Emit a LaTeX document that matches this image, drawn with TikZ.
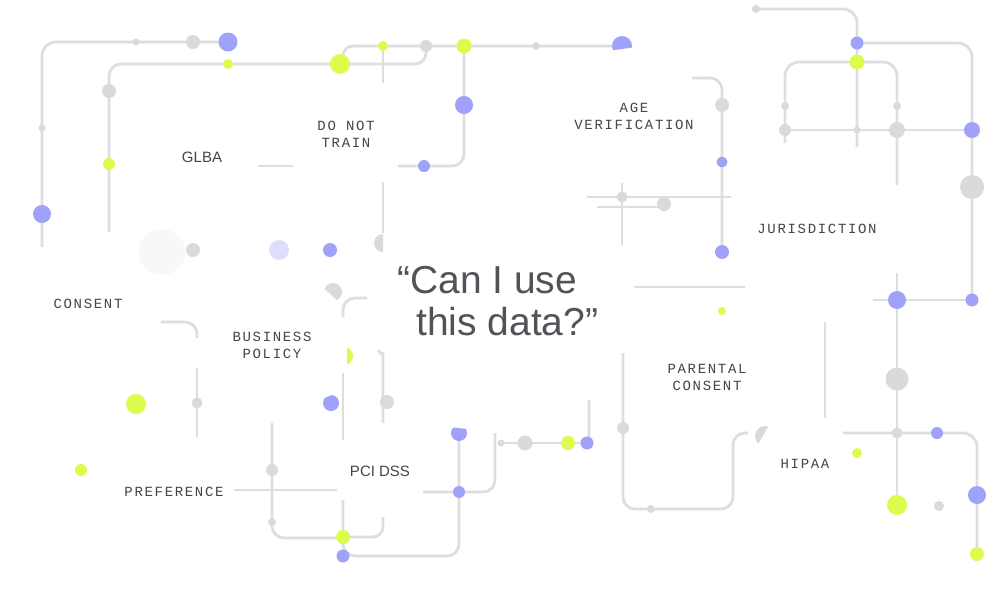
\documentclass[tikz,border=0pt]{standalone}
\usepackage{fontspec}
\setmainfont{Liberation Sans}
\newfontfamily\labelmono{Liberation Mono}[LetterSpace=12.0]
\definecolor{wiregray}{RGB}{222,222,224}
\definecolor{dotgray}{RGB}{218,218,221}
\definecolor{dotpurple}{RGB}{160,161,249}
\definecolor{dotlime}{RGB}{219,252,76}
\definecolor{lightpurple}{RGB}{222,222,252}
\definecolor{blobgray}{RGB}{248,248,249}
\definecolor{labeltext}{RGB}{68,68,74}
\definecolor{quotetext}{RGB}{82,82,88}
\tikzset{
  wire/.style={draw=wiregray, line width=2.8pt, rounded corners=12pt},
  gdot/.style={fill=dotgray},
  pdot/.style={fill=dotpurple},
  ldot/.style={fill=dotlime},
  monolabel/.style={text=labeltext, font=\labelmono\fontsize{14}{17}\selectfont, align=center, inner sep=0pt},
  sanslabel/.style={text=labeltext, font=\fontsize{15}{18}\selectfont, inner sep=0pt},
  quoteline/.style={text=quotetext, font=\fontsize{39}{42}\selectfont, inner sep=0pt, anchor=base west}
}
\begin{document}
\begin{tikzpicture}[x=1pt,y=-1pt]
\useasboundingbox[fill=white] (0,0) rectangle (1000,600);

% ---------- wires ----------
\draw[wire, rounded corners=14pt] (42,247) -- (42,42) -- (228,42);
\draw[wire] (109,232) -- (109,64) -- (340,64);
\draw[wire] (258,166) -- (293,166);
\draw[wire, rounded corners=10pt] (343,64) -- (343,46) -- (622,46);
\draw[wire, rounded corners=11pt] (340,64) -- (426,64) -- (426,46);
\draw[wire] (383,46) -- (383,83);
\draw[wire] (464,46) -- (464,166) -- (398,166);
\draw[wire] (383,182) -- (383,233);
\draw[wire] (587,197) -- (731,197);
\draw[wire] (597,207) -- (664,207);
\draw[wire] (622,183) -- (622,245);
\draw[wire] (692,78) -- (722,78) -- (722,253);
\draw[wire] (634,287) -- (745,287);
\draw[wire, rounded corners=14pt] (756,9) -- (857,9) -- (857,147);
\draw[wire, rounded corners=14pt] (857,43) -- (972,43) -- (972,300);
\draw[wire, rounded corners=14pt] (785,143) -- (785,62) -- (897,62) -- (897,185);
\draw[wire] (785,130) -- (972,130);
\draw[wire] (897,273) -- (897,505);
\draw[wire] (873,300) -- (972,300);
\draw[wire] (825,322) -- (825,418);
\draw[wire] (623,353) -- (623,509) -- (733,509) -- (733,433) -- (748,433);
\draw[wire, rounded corners=14pt] (843,433) -- (977,433) -- (977,553);
\draw[wire] (161,322) -- (197,322) -- (197,338);
\draw[wire] (197,368) -- (197,437);
\draw[wire] (234,490) -- (337,490);
\draw[wire] (272,423) -- (272,538) -- (343,538);
\draw[wire] (343,317) -- (343,298) -- (367,298);
\draw[wire] (343,373) -- (343,440);
\draw[wire] (343,500) -- (343,556) -- (459,556) -- (459,432);
\draw[wire, rounded corners=10pt] (383,517) -- (383,537) -- (343,537);
\draw[wire] (383,423) -- (383,364) .. controls (383,357) and (381,353) .. (378,350);
\draw[wire] (423,492) -- (495,492) -- (495,433);
\draw[wire] (501,443) -- (587,443);
\draw[wire, rounded corners=8pt] (589,400) -- (589,443) -- (580,443);

% ---------- partial discs ----------
\begin{scope}
  \clip (140,228) -- (156,226) -- (200,226) -- (200,280) -- (130,280) -- (130,242) -- cycle;
  \fill[blobgray] (162,252) circle[radius=23];
\end{scope}
\begin{scope}
  \clip (360,230) rectangle (383,256);
  \fill[dotgray] (383,243) circle[radius=9];
\end{scope}
\begin{scope}
  \clip (318,283) -- (338,301) -- (350,301) -- (350,275) -- (318,275) -- cycle;
  \fill[dotgray] (333,292) circle[radius=9];
\end{scope}
\begin{scope}
  \clip (347,340) rectangle (360,370);
  \fill[dotlime] (344,356) circle[radius=9];
\end{scope}
\begin{scope}
  \clip (318,401) -- (336,393) -- (345,393) -- (345,420) -- (318,420) -- cycle;
  \fill[dotpurple] (331,403) circle[radius=8];
\end{scope}
\begin{scope}
  \clip (448,427) -- (468,429) -- (470,445) -- (448,445) -- cycle;
  \fill[dotpurple] (459,433) circle[radius=8];
\end{scope}
\begin{scope}
  \clip (608,30) -- (636,30) -- (636,47) -- (608,51) -- cycle;
  \fill[dotpurple] (622,46) circle[radius=10];
\end{scope}
\begin{scope}
  \clip (750,420) -- (772,420) -- (757,446) -- (750,446) -- cycle;
  \fill[dotgray] (765,436) circle[radius=10];
\end{scope}

% ---------- dots ----------
\fill[gdot] (136,42) circle[radius=3.5];
\fill[gdot] (193,42) circle[radius=7];
\fill[pdot] (228,42) circle[radius=9.5];
\fill[gdot] (42,128) circle[radius=3.5];
\fill[pdot] (42,214) circle[radius=9];
\fill[gdot] (109,91) circle[radius=7];
\fill[ldot] (109,164) circle[radius=6];
\fill[ldot] (228,64) circle[radius=5];
\fill[ldot] (340,64) circle[radius=10];
\fill[ldot] (383,46) circle[radius=5];
\fill[gdot] (426,46) circle[radius=6];
\fill[ldot] (464,46) circle[radius=7.5];
\fill[gdot] (536,46) circle[radius=4];
\fill[pdot] (464,105) circle[radius=9];
\fill[pdot] (424,166) circle[radius=6];
\fill[gdot] (193,250) circle[radius=7];
\fill[lightpurple] (279,250) circle[radius=10];
\fill[pdot] (330,250) circle[radius=7];
\fill[gdot] (622,197) circle[radius=5.5];
\fill[gdot] (664,204) circle[radius=7];
\fill[gdot] (722,105) circle[radius=7];
\fill[pdot] (722,162) circle[radius=5.5];
\fill[pdot] (722,252) circle[radius=7];
\fill[ldot] (722,311) circle[radius=4];
\fill[gdot] (756,9) circle[radius=4];
\fill[pdot] (857,43) circle[radius=6.5];
\fill[ldot] (857,62) circle[radius=7.5];
\fill[gdot] (785,106) circle[radius=4];
\fill[gdot] (897,106) circle[radius=4];
\fill[gdot] (785,130) circle[radius=6];
\fill[gdot] (857,130) circle[radius=3.5];
\fill[gdot] (897,130) circle[radius=8];
\fill[pdot] (972,130) circle[radius=8];
\fill[gdot] (972,187) circle[radius=12];
\fill[pdot] (897,300) circle[radius=9];
\fill[pdot] (972,300) circle[radius=6.5];
\fill[gdot] (897,379) circle[radius=11.5];
\fill[gdot] (897,433) circle[radius=5.5];
\fill[pdot] (937,433) circle[radius=6];
\fill[ldot] (897,505) circle[radius=10];
\fill[gdot] (939,506) circle[radius=5];
\fill[pdot] (977,495) circle[radius=9];
\fill[ldot] (977,554) circle[radius=7];
\fill[ldot] (857,453) circle[radius=5];
\fill[ldot] (136,404) circle[radius=10];
\fill[ldot] (81,470) circle[radius=6];
\fill[gdot] (197,403) circle[radius=5.5];
\fill[gdot] (272,470) circle[radius=6];
\fill[gdot] (272,522) circle[radius=4];
\fill[gdot] (387,402) circle[radius=7];
\fill[ldot] (343,537) circle[radius=7];
\fill[pdot] (343,556) circle[radius=6.5];
\fill[pdot] (459,492) circle[radius=6];
\fill[gdot] (501,443) circle[radius=3.5];
\fill[gdot] (525,443) circle[radius=7.5];
\fill[ldot] (568,443) circle[radius=7];
\fill[pdot] (587,443) circle[radius=6.5];
\fill[gdot] (623,428) circle[radius=6];
\fill[gdot] (651,509) circle[radius=4];

% ---------- labels ----------
\node[sanslabel] (glba) at (202,157) {GLBA};
\node[monolabel] (donottrain) at (346,134) {DO NOT\\TRAIN};
\node[monolabel] (agever) at (634,116) {AGE\\VERIFICATION};
\node[monolabel] (consent) at (88,304) {CONSENT};
\node[monolabel] (business) at (272,345) {BUSINESS\\POLICY};
\node[monolabel] (preference) at (174,492) {PREFERENCE};
\node[sanslabel] (pcidss) at (380,471) {PCI DSS};
\node[monolabel] (jurisdiction) at (817,229) {JURISDICTION};
\node[monolabel] (parental) at (707,377) {PARENTAL\\CONSENT};
\node[monolabel] (hipaa) at (805,464) {HIPAA};
\node[quoteline] (q1) at (397,293) {“Can I use};
\node[quoteline] (q2) at (416,335) {this data?”};
\end{tikzpicture}
\end{document}
